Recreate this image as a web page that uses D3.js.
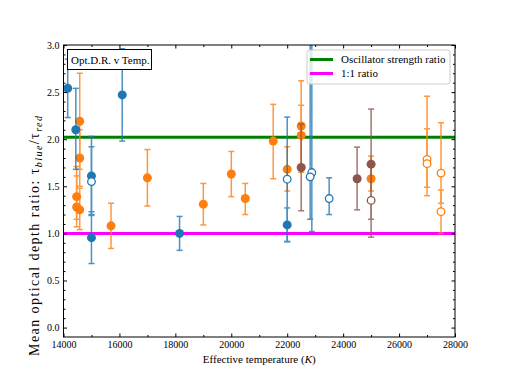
<!DOCTYPE html>
<html>
<head>
<meta charset="utf-8">
<script src="https://cdn.jsdelivr.net/npm/d3@7"></script>
<style>
  body { margin: 0; background: #fff; }
  text { font-family: "Liberation Serif", "DejaVu Serif", serif; }
</style>
</head>
<body>
<svg id="chart" width="506" height="379"></svg>
<script>
// effective temperature (K) of each star
const temps = [14150, 14440, 14580, 14580, 14470, 14470, 14580, 15000, 15000, 15000,
  16100, 15700, 17000, 18150, 19000, 20000, 20500, 21500, 22000, 22000,
  22000, 22500, 22500, 22500, 22880, 22820, 23500, 24500, 25000, 25000,
  25000, 27000, 27000, 27500, 27500];
// mean optical depth ratio
const ratios = [2.54, 2.10, 2.19, 1.80, 1.39, 1.28, 1.25, 1.61, 1.55, 0.955,
  2.47, 1.08, 1.59, 1.00, 1.31, 1.63, 1.37, 1.98, 1.68, 1.575,
  1.09, 2.14, 2.04, 1.70, 1.646, 1.60, 1.37, 1.58, 1.735, 1.58,
  1.35, 1.785, 1.74, 1.64, 1.23];
// lower / upper ends of the error bars
const lows = [2.23, 1.68, 1.68, 1.50, 1.07, 1.15, 1.04, 1.20, 1.19, 0.68,
  1.98, 0.84, 1.29, 0.82, 1.09, 1.39, 1.20, 1.58, 1.45, 0.915,
  0.91, 1.65, 1.72, 1.24, 1.02, 1.15, 1.20, 1.25, 1.15, 1.45,
  0.96, 1.49, 1.40, 1.32, 1.00];
const highs = [2.85, 2.54, 2.70, 2.10, 1.71, 1.61, 1.48, 2.03, 1.92, 1.23,
  2.96, 1.32, 1.89, 1.18, 1.53, 1.87, 1.53, 2.37, 1.92, 2.235,
  1.27, 2.62, 2.36, 2.16, 3.5, 3.5, 1.59, 1.916, 2.32, 1.82,
  1.74, 2.11, 2.456, 2.175, 1.46];
// sample group (colour) and whether the marker is filled
const groups = ["b", "b", "o", "o", "o", "o", "o", "b", "b", "b",
  "b", "o", "o", "b", "o", "o", "o", "o", "o", "b",
  "b", "o", "o", "r", "b", "b", "b", "r", "r", "o",
  "r", "o", "o", "o", "o"];
const filled = [1, 1, 1, 1, 1, 1, 1, 1, 0, 1,
  1, 1, 1, 1, 1, 1, 1, 1, 1, 0,
  1, 1, 1, 1, 0, 0, 0, 1, 1, 1,
  0, 0, 0, 0, 0];

const refLines = [
  {label: "Oscillator strength ratio", value: 2.02, color: "#008000"},
  {label: "1:1 ratio", value: 1.0, color: "#ff00ff"}
];
const xTicks = d3.range(14000, 28001, 2000);
const yTicks = d3.range(0, 3.01, 0.5);

const colors = {b: "#1f77b4", o: "#ff7f0e", r: "#8c564b"};
const data = temps.map((t, i) => ({t, v: ratios[i], lo: lows[i], hi: highs[i], g: groups[i], f: filled[i]}));

const svg = d3.select("#chart");
const L = 63.5, R = 455, T = 45, B = 337;
const x = d3.scaleLinear().domain([14000, 28000]).range([L, R]);
const y = d3.scaleLinear().domain([-0.1, 3.0]).range([B, T]);

svg.append("defs").append("clipPath").attr("id", "clip")
  .append("rect").attr("x", L).attr("y", T).attr("width", R - L).attr("height", B - T);

const plot = svg.append("g").attr("clip-path", "url(#clip)");

// reference lines
plot.selectAll("line.ref").data(refLines).join("line")
  .attr("x1", L).attr("x2", R)
  .attr("y1", d => y(d.value)).attr("y2", d => y(d.value))
  .attr("stroke", d => d.color).attr("stroke-width", 3);

// error bars + markers, series by series
const order = ["o", "b", "r"];
for (const g of order) {
  const pts = data.filter(d => d.g === g);
  const c = colors[g];
  const eb = plot.append("g").attr("stroke", c).attr("stroke-width", 1.5).attr("opacity", 0.8);
  eb.selectAll("line.v").data(pts).join("line")
    .attr("x1", d => x(d.t)).attr("x2", d => x(d.t))
    .attr("y1", d => y(d.lo)).attr("y2", d => y(d.hi));
  for (const k of ["lo", "hi"]) {
    eb.selectAll("line.c" + k).data(pts).join("line")
      .attr("x1", d => x(d.t) - 3).attr("x2", d => x(d.t) + 3)
      .attr("y1", d => y(d[k])).attr("y2", d => y(d[k]));
  }
  plot.append("g").selectAll("circle").data(pts).join("circle")
    .attr("cx", d => x(d.t)).attr("cy", d => y(d.v))
    .attr("r", d => d.f ? 4.5 : 3.8)
    .attr("fill", d => d.f ? c : "#fff")
    .attr("stroke", c).attr("stroke-width", d => d.f ? 0 : 1.3);
}

// axes with inward ticks on all sides
const major = 3.5, minor = 2;
function addAxis(axis, tr, ticks, minorTicks, labels) {
  const g = svg.append("g").attr("transform", tr);
  g.call(axis.tickValues(minorTicks).tickSize(-minor).tickFormat(""));
  g.selectAll(".domain").remove();
  const g2 = svg.append("g").attr("transform", tr);
  g2.call(axis.tickValues(ticks).tickSize(-major).tickPadding(4)
    .tickFormat(labels ? labels : ""));
  g2.selectAll(".domain").remove();
  g2.selectAll("text").attr("font-size", 10).attr("fill", "#000")
    .style("font-family", "Liberation Serif");
  svg.selectAll(".tick line").attr("stroke", "#000");
}
const xMinor = d3.range(15000, 28000, 2000);
const yMinor = d3.range(0, 3.0, 0.1).filter(v => Math.abs(v * 2 - Math.round(v * 2)) > 1e-6);
addAxis(d3.axisBottom(x), `translate(0,${B})`, xTicks, xMinor, d3.format("d"));
addAxis(d3.axisTop(x), `translate(0,${T})`, xTicks, xMinor, null);
addAxis(d3.axisLeft(y), `translate(${L},0)`, yTicks, yMinor, d3.format(".1f"));
addAxis(d3.axisRight(y), `translate(${R},0)`, yTicks, yMinor, null);

svg.append("rect").attr("x", L).attr("y", T).attr("width", R - L).attr("height", B - T)
  .attr("fill", "none").attr("stroke", "#000").attr("stroke-width", 1);

// axis titles
const xl = svg.append("text").attr("x", (L + R) / 2).attr("y", 363)
  .attr("text-anchor", "middle").attr("font-size", 11);
xl.append("tspan").text("Effective temperature (");
xl.append("tspan").attr("font-style", "italic").text("K");
xl.append("tspan").text(")");

const yl = svg.append("text").attr("transform", "translate(39,236) rotate(-90)")
  .attr("text-anchor", "middle").attr("font-size", 14)
  .attr("textLength", 240).attr("lengthAdjust", "spacing");
yl.append("tspan").text("Mean optical depth ratio: τ");
yl.append("tspan").attr("font-style", "italic").attr("font-size", 10).attr("dy", 2.5).text("blue");
yl.append("tspan").attr("dy", -2.5).text("/τ");
yl.append("tspan").attr("font-style", "italic").attr("font-size", 10).attr("dy", 2.5).text("red");

// title box
svg.append("rect").attr("x", 67.5).attr("y", 49.5).attr("width", 84).attr("height", 20)
  .attr("fill", "#fff").attr("stroke", "#000").attr("stroke-width", 1);
svg.append("text").attr("x", 71).attr("y", 63.5).attr("font-size", 11).text("Opt.D.R. v Temp.");

// legend
const lg = svg.append("g");
lg.append("rect").attr("x", 307).attr("y", 50).attr("width", 143).attr("height", 34).attr("rx", 2.5)
  .attr("fill", "#fff").attr("fill-opacity", 0.8).attr("stroke", "#ccc").attr("stroke-width", 1);
refLines.forEach((d, i) => {
  const yy = 59.5 + i * 14;
  lg.append("line").attr("x1", 310).attr("x2", 333).attr("y1", yy).attr("y2", yy)
    .attr("stroke", d.color).attr("stroke-width", 3);
  lg.append("text").attr("x", 341).attr("y", yy + 3.5).attr("font-size", 11).text(d.label);
});
</script>
</body>
</html>
